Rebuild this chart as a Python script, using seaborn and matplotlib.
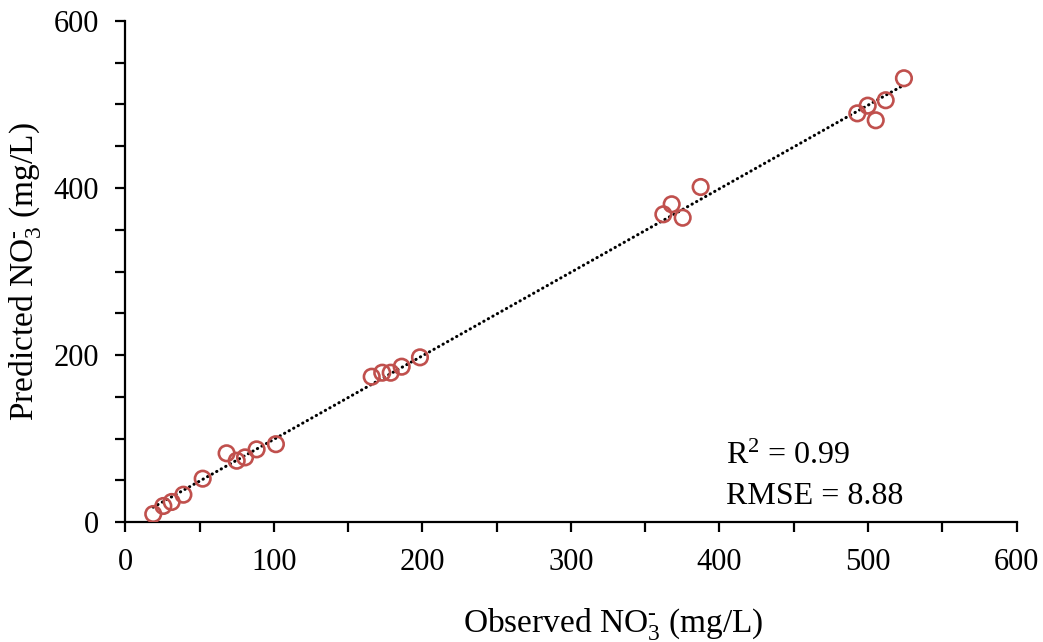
import matplotlib
matplotlib.use("Agg")
import matplotlib.pyplot as plt
import seaborn as sns
import pandas as pd

# observed vs predicted nitrate (mg/L)
observed = [18.7, 25.5, 31.1, 39.0, 52.0, 68.1, 74.9, 80.5, 88.3, 101.3,
            165.8, 172.9, 178.6, 186.0, 198.3,
            362.2, 367.8, 375.2, 387.3,
            492.8, 499.8, 505.2, 511.9, 524.2]
predicted = [9.6, 19.2, 24.0, 32.7, 51.9, 82.3, 73.4, 77.4, 87.0, 93.2,
             174.0, 178.8, 178.8, 186.0, 197.2,
             368.5, 380.5, 364.4, 401.2,
             489.4, 498.6, 481.1, 505.1, 531.4]
stats_lines = ["R$^2$ = 0.99", "RMSE = 8.88"]

df = pd.DataFrame({"observed": observed, "predicted": predicted})

sns.set_style("ticks")
plt.rcParams["font.family"] = ["Liberation Serif", "DejaVu Serif"]
plt.rcParams["mathtext.fontset"] = "custom"
plt.rcParams["mathtext.rm"] = "Liberation Serif"
plt.rcParams["mathtext.it"] = "Liberation Serif:italic"
plt.rcParams["text.color"] = "black"
plt.rcParams["axes.labelcolor"] = "black"
plt.rcParams["xtick.color"] = "black"
plt.rcParams["ytick.color"] = "black"

fig = plt.figure(figsize=(10.43, 6.42), dpi=100)
ax = fig.add_axes([0.1203, 0.1869, 0.8543, 0.7804])

# fitted trend line (dotted)
sns.regplot(data=df, x="observed", y="predicted", ci=None, scatter=False, ax=ax,
            line_kws={"color": "black", "linewidth": 2.2,
                      "linestyle": (0, (0.1, 1.6)), "dash_capstyle": "round"})
# hollow markers
sns.scatterplot(data=df, x="observed", y="predicted", ax=ax, marker="o",
                s=125, facecolors="none", edgecolor="#C0504D", linewidth=1.9,
                zorder=3)

ax.set_xlim(0, 600)
ax.set_ylim(0, 600)
ax.set_xticks(range(0, 601, 100))
ax.set_xticks(range(0, 601, 50), minor=True)
ax.set_yticks(range(0, 601, 200))
ax.set_yticks(range(0, 601, 50), minor=True)

for spine in ["top", "right"]:
    ax.spines[spine].set_visible(False)
for spine in ["left", "bottom"]:
    ax.spines[spine].set_linewidth(1.6)
    ax.spines[spine].set_color("black")

ax.tick_params(which="both", direction="out", length=7, width=1.6, color="black")
ax.tick_params(which="major", labelsize=22, pad=12, labelcolor="black")

ax.set_xlabel("Observed NO$_3^{\\text{-}}$ (mg/L)", fontsize=24)
ax.set_ylabel("Predicted NO$_3^{\\text{-}}$ (mg/L)", fontsize=24)
ax.xaxis.set_label_coords(0.547, -0.168)
ax.yaxis.set_label_coords(-0.092, 0.5)

ax.text(0.674, 0.13, stats_lines[0], transform=ax.transAxes, fontsize=23,
        va="center", ha="left")
ax.text(0.674, 0.05, stats_lines[1], transform=ax.transAxes, fontsize=23,
        va="center", ha="left")

fig.savefig("out.png", dpi=100)
